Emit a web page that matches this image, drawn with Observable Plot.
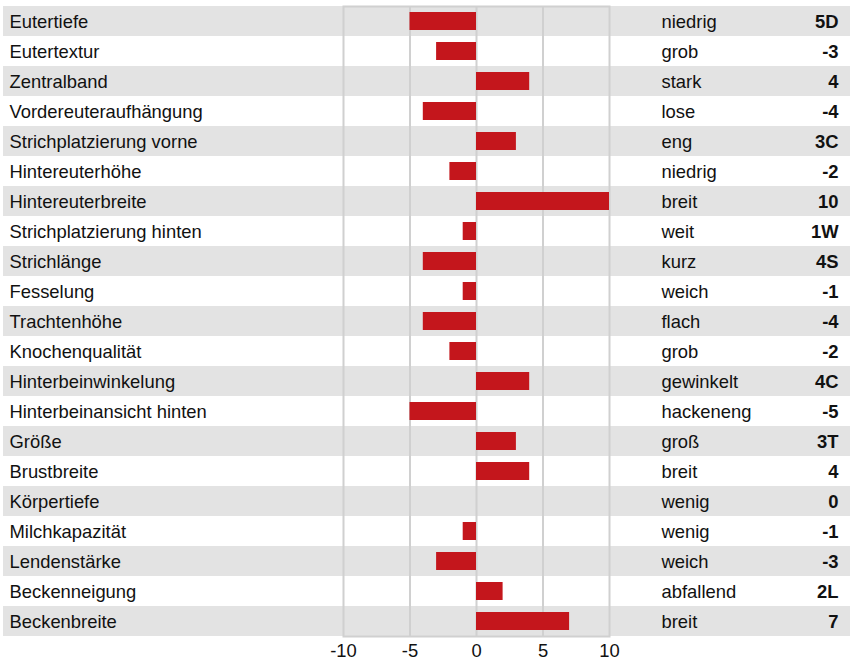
<!DOCTYPE html>
<html>
<head>
<meta charset="utf-8">
<script src="https://cdn.jsdelivr.net/npm/d3@7"></script>
<script src="https://cdn.jsdelivr.net/npm/@observablehq/plot@0.6"></script>
<style>
  html, body { margin: 0; padding: 0; background: #fff; }
  svg { display: block; }
</style>
</head>
<body>
<div id="chart"></div>
<script>
const traits = ["Eutertiefe","Eutertextur","Zentralband","Vordereuteraufhängung","Strichplatzierung vorne","Hintereuterhöhe","Hintereuterbreite","Strichplatzierung hinten","Strichlänge","Fesselung","Trachtenhöhe","Knochenqualität","Hinterbeinwinkelung","Hinterbeinansicht hinten","Größe","Brustbreite","Körpertiefe","Milchkapazität","Lendenstärke","Beckenneigung","Beckenbreite"];
const values = [-5,-3,4,-4,3,-2,10,-1,-4,-1,-4,-2,4,-5,3,4,0,-1,-3,2,7];
const directions = ["niedrig","grob","stark","lose","eng","niedrig","breit","weit","kurz","weich","flach","grob","gewinkelt","hackeneng","groß","breit","wenig","wenig","weich","abfallend","breit"];
const valueLabels = ["5D","-3","4","-4","3C","-2","10","1W","4S","-1","-4","-2","4C","-5","3T","4","0","-1","-3","2L","7"];
const xTicks = [-10,-5,0,5,10];
const gridValues = [-5,0,5];

const rows = traits.map((t, i) => ({trait: t, value: values[i], dir: directions[i], label: valueLabels[i], idx: i}));
const bandRows = rows.filter(d => d.idx % 2 === 0);

const chart = Plot.plot({
  width: 862,
  height: 659,
  marginLeft: 343,
  marginRight: 253,
  marginTop: 6,
  marginBottom: 23,
  style: {fontFamily: "'Liberation Sans', Arial, Helvetica, sans-serif", fontSize: "18.4px", color: "#111", overflow: "visible"},
  x: {domain: [-10, 10], ticks: xTicks, tickSize: 0, tickPadding: 7, tickFormat: d => String(d), label: null},
  y: {domain: traits, padding: 0, axis: null},
  marks: [
    Plot.barX(bandRows, {x1: -10, x2: 10, y: "trait", fill: "#e3e3e3", insetLeft: -340, insetRight: -241}),
    Plot.ruleX(gridValues, {stroke: "#d0d0d0", strokeWidth: 2}),
    Plot.frame({stroke: "#d0d0d0", strokeWidth: 2}),
    Plot.barX(rows, {x: "value", y: "trait", fill: "#c4161c", insetTop: 6, insetBottom: 6}),
    Plot.text(rows, {y: "trait", text: "trait", frameAnchor: "left", dx: -334, dy: 1, textAnchor: "start", fill: "#111"}),
    Plot.text(rows, {y: "trait", text: "dir", frameAnchor: "right", dx: 52, dy: 1, textAnchor: "start", fill: "#111"}),
    Plot.text(rows, {y: "trait", text: "label", frameAnchor: "right", dx: 229, dy: 1, textAnchor: "end", fontWeight: "bold", fill: "#111"})
  ]
});
document.getElementById("chart").appendChild(chart);
</script>
</body>
</html>
